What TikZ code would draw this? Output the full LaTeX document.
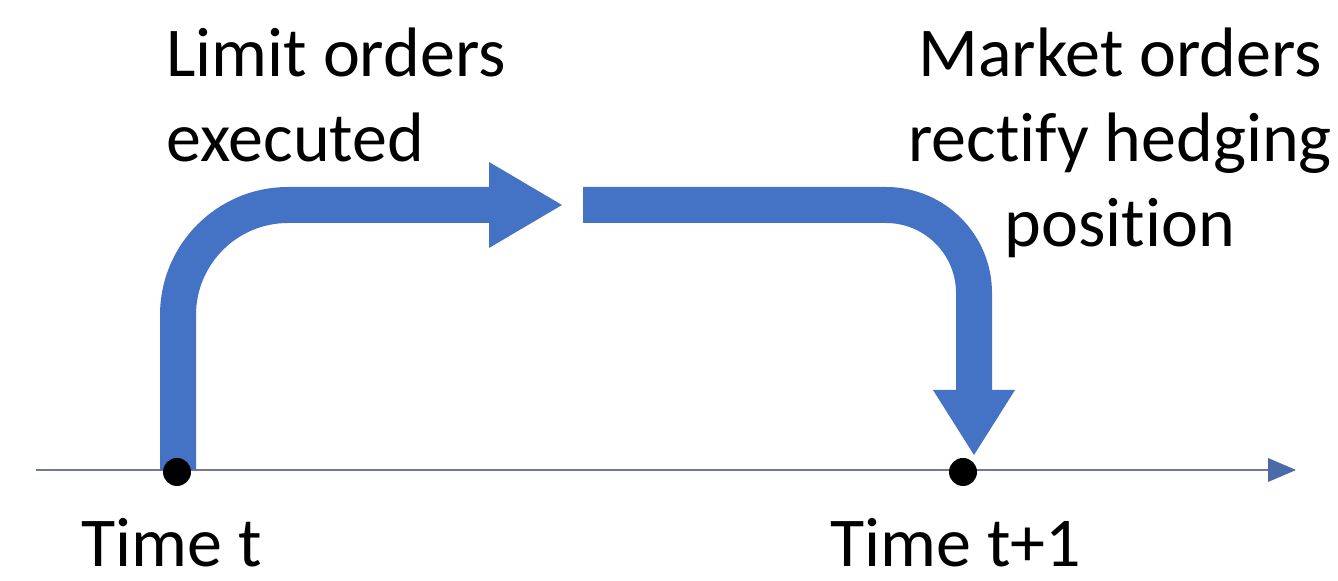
\documentclass[tikz,border=0pt]{standalone}
\usepackage{fontspec}
\setmainfont{Carlito}[Ligatures=CommonOff]
\definecolor{offblue}{RGB}{68,114,196}
\definecolor{axisgray}{RGB}{112,122,140}
\definecolor{axistip}{RGB}{74,106,168}
\begin{document}
\begin{tikzpicture}[x=0.5pt,y=-0.5pt,
  band/.style={draw=offblue,line width=18pt},
  headfill/.style={fill=offblue},
  axisline/.style={draw=axisgray,line width=1pt},
  dot/.style={circle,fill=black,inner sep=0pt,minimum size=14pt},
  lbl/.style={inner sep=0pt,font=\fontsize{35}{42.5}\selectfont}]
\useasboundingbox (0,0) rectangle (1338,581);
% axis
\coordinate (ax0) at (36,470);
\coordinate (ax1) at (1270,470);
\coordinate (axtip) at (1296,470);
\draw[axisline] (ax0) -- (ax1);
\fill[axistip] (1268,458) -- (axtip) -- (1268,482) -- cycle;
% left bent arrow
\coordinate (l0) at (178,470);
\coordinate (lbase) at (489,205);
\coordinate (ltip) at (562,205);
\draw[band,rounded corners=55pt] (l0) |- (lbase);
\fill[headfill] (489,162) -- (ltip) -- (489,248) -- cycle;
% right bent arrow
\coordinate (r0) at (583,205);
\coordinate (rbase) at (974,391);
\coordinate (rtip) at (974,455);
\draw[band,rounded corners=44pt] (r0) -| (rbase);
\fill[headfill] (933,390) -- (rtip) -- (1015,390) -- cycle;
% dots
\node[dot] (d0) at (177,472) {};
\node[dot] (d1) at (963,472) {};
% labels
\node[lbl,anchor=base west] (limit) at (166,77)
  {\begin{tabular}[t]{@{}l@{}}Limit orders\\executed\end{tabular}};
\node[lbl,anchor=base] (market) at (1120,77)
  {\begin{tabular}[t]{@{}c@{}}Market orders\\rectify hedging\\position\end{tabular}};
\node[lbl,anchor=base west] (tt) at (81,567) {Time t};
\node[lbl,anchor=base west] (tt1) at (830,567) {Time t+1};
\end{tikzpicture}
\end{document}
